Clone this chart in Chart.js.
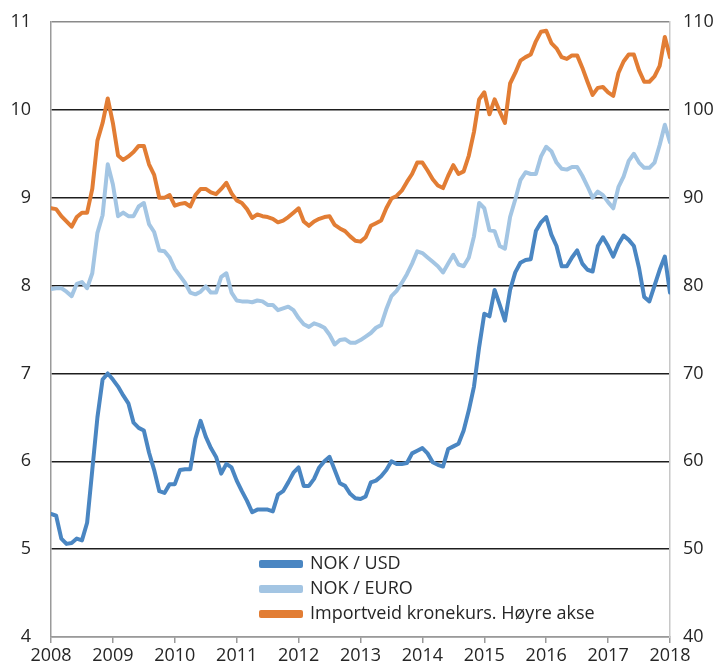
<!DOCTYPE html>
<html>
<head>
<meta charset="utf-8">
<script src="https://cdn.jsdelivr.net/npm/chart.js@4/dist/chart.umd.min.js"></script>
<style>
  html, body { margin: 0; padding: 0; background: #fff; }
  #wrap { width: 728px; height: 669px; position: relative; }
</style>
</head>
<body>
<div id="wrap"><canvas id="c"></canvas></div>
<script>
// monthly observations, Jan 2008 - Jan 2018
const startYear = 2008;
const yearTicks = [2008, 2009, 2010, 2011, 2012, 2013, 2014, 2015, 2016, 2017, 2018];

const nokUsd = [
  5.40, 5.38, 5.12, 5.06, 5.07, 5.12, 5.10, 5.30, 5.90, 6.50, 6.93, 7.00,
  6.93, 6.85, 6.75, 6.66, 6.44, 6.38, 6.35, 6.10, 5.90, 5.66, 5.64, 5.74,
  5.74, 5.90, 5.91, 5.91, 6.26, 6.46, 6.28, 6.15, 6.05, 5.86, 5.97, 5.93,
  5.78, 5.66, 5.55, 5.42, 5.45, 5.45, 5.45, 5.43, 5.62, 5.66, 5.76, 5.87,
  5.93, 5.72, 5.72, 5.80, 5.93, 6.00, 6.05, 5.90, 5.75, 5.72, 5.63, 5.58,
  5.57, 5.60, 5.76, 5.78, 5.83, 5.90, 6.00, 5.97, 5.97, 5.98, 6.09, 6.12,
  6.15, 6.09, 5.99, 5.96, 5.94, 6.14, 6.17, 6.20, 6.35, 6.58, 6.85, 7.30,
  7.68, 7.65, 7.95, 7.78, 7.60, 7.95, 8.15, 8.26, 8.29, 8.30, 8.62, 8.72,
  8.78, 8.58, 8.45, 8.22, 8.22, 8.32, 8.40, 8.25, 8.18, 8.16, 8.45, 8.55,
  8.45, 8.33, 8.47, 8.57, 8.52, 8.45, 8.20, 7.87, 7.82, 8.00, 8.18, 8.33,
  7.92
];

const nokEuro = [
  7.96, 7.97, 7.97, 7.93, 7.88, 8.02, 8.04, 7.97, 8.14, 8.60, 8.80, 9.38,
  9.15, 8.79, 8.83, 8.79, 8.79, 8.90, 8.94, 8.70, 8.61, 8.40, 8.39, 8.32,
  8.19, 8.11, 8.03, 7.92, 7.90, 7.93, 7.99, 7.92, 7.92, 8.10, 8.14, 7.92,
  7.83, 7.82, 7.82, 7.81, 7.83, 7.82, 7.78, 7.78, 7.72, 7.74, 7.76, 7.72,
  7.63, 7.56, 7.53, 7.57, 7.55, 7.52, 7.44, 7.33, 7.38, 7.39, 7.35, 7.35,
  7.38, 7.42, 7.46, 7.52, 7.55, 7.73, 7.88, 7.94, 8.03, 8.13, 8.25, 8.39,
  8.37, 8.32, 8.27, 8.22, 8.15, 8.25, 8.35, 8.24, 8.22, 8.32, 8.56, 8.94,
  8.88, 8.63, 8.62, 8.45, 8.42, 8.78, 8.98, 9.20, 9.29, 9.27, 9.27, 9.47,
  9.58, 9.53, 9.40, 9.33, 9.32, 9.35, 9.35, 9.25, 9.13, 9.00, 9.07, 9.03,
  8.95, 8.88, 9.12, 9.24, 9.42, 9.50, 9.40, 9.34, 9.34, 9.40, 9.60, 9.83,
  9.63
];

// import-weighted krone exchange rate (right axis)
const importKrone = [
  88.8, 88.7, 87.9, 87.3, 86.7, 87.8, 88.3, 88.3, 91.0, 96.5, 98.5, 101.3,
  98.5, 94.8, 94.3, 94.7, 95.2, 95.9, 95.9, 93.8, 92.6, 90.0, 90.0, 90.3,
  89.1, 89.3, 89.4, 89.0, 90.3, 91.0, 91.0, 90.6, 90.4, 91.0, 91.7, 90.5,
  89.7, 89.4, 88.7, 87.7, 88.1, 87.9, 87.8, 87.6, 87.2, 87.4, 87.8, 88.3,
  88.8, 87.3, 86.8, 87.3, 87.6, 87.8, 87.9, 86.9, 86.5, 86.2, 85.6, 85.1,
  85.0, 85.5, 86.8, 87.1, 87.4, 88.8, 89.9, 90.2, 90.8, 91.8, 92.7, 94.0,
  94.0, 93.1, 92.1, 91.4, 91.1, 92.5, 93.7, 92.7, 93.0, 94.8, 97.5, 101.2,
  102.0, 99.5, 101.2, 99.8, 98.5, 103.0, 104.2, 105.6, 106.0, 106.3, 107.8, 108.9,
  109.0, 107.6, 107.0, 106.0, 105.8, 106.2, 106.2, 104.8, 103.2, 101.7, 102.5, 102.6,
  102.0, 101.6, 104.2, 105.5, 106.3, 106.3, 104.5, 103.2, 103.2, 103.8, 105.0, 108.3,
  106.0
];

const seriesNames = ['NOK / USD', 'NOK / EURO', 'Importveid kronekurs. Høyre akse'];
const seriesColors = ['rgb(74,134,194)', 'rgb(163,197,227)', 'rgb(226,125,52)'];

const toPoints = (arr) => arr.map((v, i) => ({ x: startYear + i / 12, y: v }));

const textColor = '#262626';
const fontFamily = "'Open Sans', 'DejaVu Sans', sans-serif";

// put the legend inside the plot, under the lines
const legendInPlot = {
  id: 'legendInPlot',
  afterLayout(chart) {
    const lg = chart.legend;
    if (!lg) return;
    const w = lg.width, h = lg.height;
    lg.left = 254;
    lg.top = 548;
    lg.right = lg.left + w;
    lg.bottom = lg.top + h;
  }
};

// fixed axis width, and don't let tick padding push the plot down
const fixWidth = (w) => (s) => {
  s.width = w;
  s.paddingTop = 0;
  s.paddingBottom = 0;
};

new Chart(document.getElementById('c'), {
  type: 'line',
  data: {
    datasets: [
      { label: seriesNames[0], data: toPoints(nokUsd), yAxisID: 'y', borderColor: seriesColors[0], backgroundColor: seriesColors[0] },
      { label: seriesNames[1], data: toPoints(nokEuro), yAxisID: 'y', borderColor: seriesColors[1], backgroundColor: seriesColors[1] },
      { label: seriesNames[2], data: toPoints(importKrone), yAxisID: 'y2', borderColor: seriesColors[2], backgroundColor: seriesColors[2] }
    ]
  },
  options: {
    responsive: true,
    maintainAspectRatio: false,
    animation: false,
    layout: { padding: { top: 22, left: 0, right: 0, bottom: 0 } },
    elements: {
      point: { radius: 0 },
      line: { borderWidth: 4, tension: 0, borderJoinStyle: 'round', borderCapStyle: 'round' }
    },
    plugins: {
      tooltip: { enabled: false },
      legend: {
        position: 'chartArea',
        align: 'start',
        labels: {
          boxWidth: 40,
          boxHeight: 4,
          padding: 7,
          color: textColor,
          font: { family: fontFamily, size: 18 }
        }
      }
    },
    scales: {
      x: {
        type: 'linear',
        min: 2008,
        max: 2018,
        afterBuildTicks: (s) => { s.ticks = yearTicks.map(v => ({ value: v })); },
        afterFit: (s) => { s.height = 32; },
        border: { color: '#9a9a9a', width: 1.5 },
        grid: { drawOnChartArea: false, drawTicks: true, tickLength: 6, color: '#9a9a9a', lineWidth: 1.5 },
        ticks: {
          color: textColor,
          padding: 2,
          maxRotation: 0,
          autoSkip: false,
          font: { family: fontFamily, size: 18 },
          callback: (v) => String(Math.round(v))
        }
      },
      y: {
        position: 'left',
        min: 4,
        max: 11,
        afterFit: fixWidth(51),
        border: { color: '#9a9a9a', width: 1.5 },
        grid: {
          drawTicks: false,
          lineWidth: 1.5,
          color: (ctx) => (ctx.tick && (ctx.tick.value === 4 || ctx.tick.value === 11)) ? '#8a8a8a' : '#1e1e1e'
        },
        ticks: {
          stepSize: 1,
          padding: 20,
          color: textColor,
          font: { family: fontFamily, size: 18 }
        }
      },
      y2: {
        position: 'right',
        min: 40,
        max: 110,
        afterFit: fixWidth(58),
        border: { color: '#c8c8c8', width: 1.5 },
        grid: { drawOnChartArea: false, drawTicks: false },
        ticks: {
          stepSize: 10,
          padding: 13,
          color: textColor,
          font: { family: fontFamily, size: 18 }
        }
      }
    }
  },
  plugins: [legendInPlot]
});
</script>
</body>
</html>
